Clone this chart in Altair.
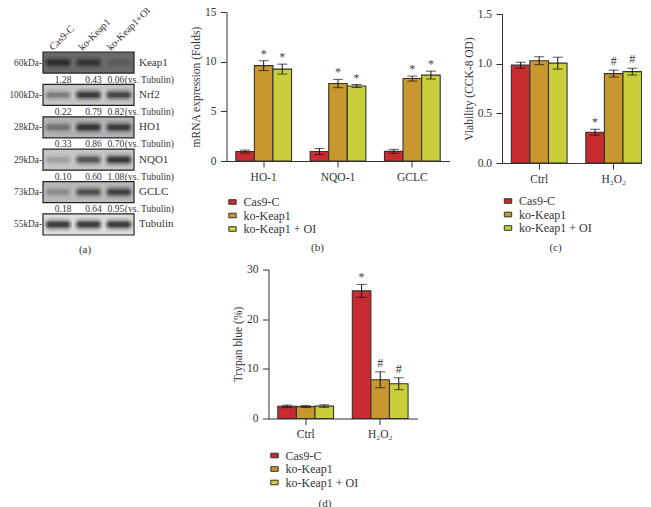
import altair as alt
import pandas as pd

FONT = "Liberation Serif"
INK = "#333333"
SERIES = ["Cas9-C", "ko-Keap1", "ko-Keap1 + OI"]
COLORS = ["#c72c31", "#c8982f", "#c9cf3b"]

# panel (a)
lanes = ["Cas9-C", "ko-Keap1", "ko-Keap1+OI"]
kda = ["60kDa-", "100kDa-", "28kDa-", "29kDa-", "73kDa-", "55kDa-"]
proteins = ["Keap1", "Nrf2", "HO1", "NQO1", "GCLC", "Tubulin"]
blot_dark = [0.55, 0.20, 0.27, 0.20, 0.25, 0.12]
band_strength = [[0.75, 0.65, 0.15], [0.40, 0.95, 0.85], [0.40, 0.98, 0.90],
                 [0.20, 0.70, 1.00], [0.25, 0.70, 0.85], [1.00, 1.00, 1.00]]
ratios = [["1.28", "0.43", "0.06"], ["0.22", "0.79", "0.82"], ["0.33", "0.86", "0.70"],
          ["0.10", "0.60", "1.08"], ["0.18", "0.64", "0.95"]]

# panel (b)
b_groups = ["HO-1", "NQO-1", "GCLC"]
b_values = [[0.95, 0.95, 0.97], [9.6, 7.8, 8.3], [9.25, 7.55, 8.65]]
b_errors = [[0.15, 0.30, 0.20], [0.50, 0.42, 0.25], [0.50, 0.15, 0.40]]
b_marks = [["", "", ""], ["*", "*", "*"], ["*", "*", "*"]]

# panel (c)
c_groups = ["Ctrl", "H₂O₂"]
c_values = [[0.985, 0.31], [1.03, 0.90], [1.005, 0.92]]
c_errors = [[0.03, 0.03], [0.04, 0.035], [0.06, 0.035]]
c_marks = [["", "*"], ["", "#"], ["", "#"]]

# panel (d)
d_groups = ["Ctrl", "H₂O₂"]
d_values = [[2.45, 25.7], [2.4, 7.8], [2.5, 7.0]]
d_errors = [[0.25, 1.3], [0.2, 1.6], [0.25, 1.2]]
d_marks = [["", "*"], ["", "#"], ["", "#"]]


def bars(groups, values, errors, marks, domain, ticks, fmt, ytitle, caption,
         height, yrange, title_pad, legend_y, cap_x, cap_y):
    rows = []
    for si, s in enumerate(SERIES):
        for gi, g in enumerate(groups):
            v, e = values[si][gi], errors[si][gi]
            rows.append(dict(group=g, series=s, v=v, lo=v - e, hi=v + e, mark=marks[si][gi]))
    df = pd.DataFrame(rows)
    x = alt.X("group:N", sort=groups,
              scale=alt.Scale(paddingInner=0.25, paddingOuter=0.125),
              axis=alt.Axis(title=caption, titleX=cap_x, titleY=cap_y, titleFontWeight="normal",
                            titleFontSize=11, labelAngle=0, tickSize=6, labelPadding=4,
                            labelFontSize=11.5))
    xo = alt.XOffset("series:N", sort=SERIES, scale=alt.Scale(padding=0))
    yscale = alt.Scale(domain=domain, range=yrange, nice=False)
    yaxis = alt.Axis(values=ticks, format=fmt, title=ytitle, tickSize=6, labelPadding=4.5,
                     labelFontSize=11.5, titleFontSize=11.5, titleFontWeight="normal",
                     titlePadding=title_pad)
    base = alt.Chart(df).encode(x=x, xOffset=xo)
    bar = base.mark_bar(stroke=INK, strokeWidth=1.1).encode(
        y=alt.Y("v:Q", scale=yscale, axis=yaxis),
        color=alt.Color("series:N", sort=SERIES, scale=alt.Scale(domain=SERIES, range=COLORS),
                        legend=alt.Legend(title=None, orient="none", legendX=0, legendY=legend_y,
                                          symbolType="M-1,-0.62H1V0.62H-1Z", symbolSize=55,
                                          symbolStrokeColor=INK, symbolStrokeWidth=1,
                                          symbolOpacity=1, labelFontSize=12, labelOffset=5,
                                          rowPadding=1.5, labelColor=INK)),
    )
    rule = base.mark_rule(color="#111111", strokeWidth=1).encode(
        y=alt.Y("lo:Q", scale=yscale, axis=yaxis), y2="hi:Q")
    cap1 = base.mark_tick(color="#111111", thickness=1, size=10).encode(
        y=alt.Y("lo:Q", scale=yscale, axis=yaxis))
    cap2 = base.mark_tick(color="#111111", thickness=1, size=10).encode(
        y=alt.Y("hi:Q", scale=yscale, axis=yaxis))
    layers = [bar, rule, cap1, cap2]
    for sym, col, dy in [("*", "#444444", 0), ("#", "#333333", -2)]:
        sub = df[df["mark"] == sym]
        if len(sub):
            layers.append(alt.Chart(sub).mark_text(fontSize=12, color=col, baseline="bottom", dy=dy).encode(
                x=x, xOffset=xo, y=alt.Y("hi:Q", scale=yscale, axis=yaxis), text="mark:N"))
    return alt.layer(*layers).properties(height=height)


def blots():
    rows, text = [], []
    for ri, k in enumerate(kda):
        for li, lane in enumerate(lanes):
            rows.append(dict(kda=k, lane=lane, s=band_strength[ri][li], bg=blot_dark[ri]))
            if ri < len(ratios):
                text.append(dict(kda=k, lane=lane, label=ratios[ri][li], li=li))
    df = pd.DataFrame(rows)
    tx = pd.DataFrame(text)
    xs = alt.Scale(domain=lanes, paddingInner=0, paddingOuter=0)
    ys = alt.Scale(domain=kda, range=[40, 223], paddingInner=0.35, paddingOuter=0)
    x = alt.X("lane:N", scale=xs, sort=lanes,
              axis=alt.Axis(title=None, labels=False, domain=False, ticks=False))
    y = alt.Y("kda:N", scale=ys, sort=kda,
              axis=alt.Axis(title=None, domain=False, ticks=False, labelPadding=1.5,
                            labelFontSize=9.3, labelOverlap=False))
    bgdf = pd.DataFrame({"kda": kda, "bg": blot_dark, "name": proteins})
    back = alt.Chart(bgdf).mark_rect(stroke="#222222", strokeWidth=1.2).encode(
        y=y,
        color=alt.Color("bg:Q", legend=None,
                        scale=alt.Scale(domain=[0, 1], range=["#ffffff", "#000000"])),
    )
    grad = {"gradient": "linear", "x1": 0, "x2": 1, "y1": 0, "y2": 0,
            "stops": [{"offset": 0, "color": "rgba(10,10,10,0)"},
                      {"offset": 0.2, "color": "rgba(10,10,10,0.8)"},
                      {"offset": 0.8, "color": "rgba(10,10,10,0.8)"},
                      {"offset": 1, "color": "rgba(10,10,10,0)"}]}
    layers = [back]
    for h, op in [(14, 0.15), (10, 0.25), (7, 0.4), (4, 0.6)]:
        layers.append(alt.Chart(df).mark_rect(width=29, height=h, fill=grad).encode(
            x=x, y=y, opacity=alt.Opacity("s:Q", legend=None,
                                          scale=alt.Scale(domain=[0, 1], range=[0, op]))))
    for li, dx in enumerate([5, 5, -3]):
        layers.append(alt.Chart(tx[tx.li == li]).mark_text(fontSize=9.5, dy=17, dx=dx, color=INK).encode(
            x=x, y=y, text="label:N"))
    layers.append(alt.Chart(tx[tx.li == 2]).mark_text(fontSize=9.5, dy=17, dx=6, align="left", color=INK).encode(
        x=x, y=y, text=alt.value("(vs. Tubulin)")))
    layers.append(alt.Chart(bgdf).mark_text(fontSize=11, align="left", color=INK).encode(
        x=alt.value(96), y=y, text="name:N"))
    for lane, off in zip(lanes, [-7, -8, -10]):
        layers.append(alt.Chart(pd.DataFrame({"lane": [lane]})).mark_text(
            fontSize=10.2, angle=315, align="left", baseline="middle", xOffset=off, color=INK).encode(
            x=x, y=alt.value(37), text="lane:N"))
    layers.append(alt.Chart(pd.DataFrame({"t": ["(a)"]})).mark_text(fontSize=11, color=INK).encode(
        x=alt.value(42), y=alt.value(238), text="t:N"))
    return alt.layer(*layers).resolve_scale(opacity="independent", color="independent").properties(width=91, height=223)


a = blots()
b = bars(b_groups, b_values, b_errors, b_marks, [0, 15], [0, 5, 10, 15], "d", "mRNA expression (Folds)",
         "(b)", 149, [149, 0], 3, 184, 90.5, 80).properties(width=223)
c = bars(c_groups, c_values, c_errors, c_marks, [0, 1.5], [0, 0.5, 1.0, 1.5], ".1f", "Viability (CCK-8 OD)",
         "(c)", 151, [151, 2], 3, 183, 53, 78).properties(width=149)
d = bars(d_groups, d_values, d_errors, d_marks, [0, 30], [0, 10, 20, 30], "d", "Trypan blue (%)",
         "(d)", 149, [149, 0], 3, 180, 56, 79).properties(width=149)
spacer = alt.Chart(pd.DataFrame({"a": [0]})).mark_text().encode(text=alt.value("")).properties(width=5.5, height=1)

ind = dict(color="independent", opacity="independent")
top = alt.hconcat(b, c, spacing=13.5).resolve_scale(**ind)
bottom = alt.hconcat(spacer, d, spacing=0).resolve_scale(**ind)
right = alt.vconcat(top, bottom, spacing=11.5).resolve_scale(**ind)
chart = alt.hconcat(a, right, spacing=14.5).resolve_scale(**ind).properties(
    padding={"left": 0, "top": -3, "right": -9, "bottom": 0}).configure_view(
    stroke=None).configure_axis(domainColor=INK, tickColor=INK, labelColor=INK, titleColor=INK, labelFont=FONT,
                 titleFont=FONT, grid=False, domainWidth=1, tickWidth=1).configure_legend(
    labelFont=FONT).configure_text(font=FONT)
chart.save("out.html", embed_options={"renderer": "svg", "actions": False})
